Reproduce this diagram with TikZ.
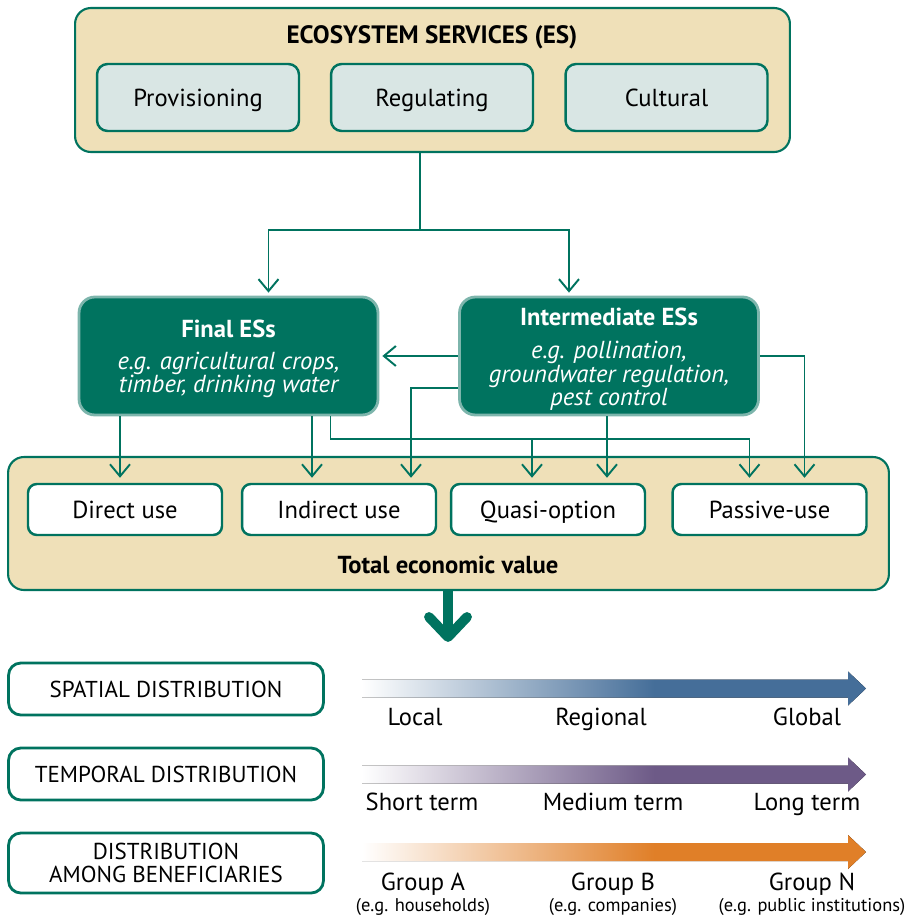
\documentclass[tikz,border=0pt]{standalone}
\usepackage{fontspec}
\setmainfont{PT Sans}
\usetikzlibrary{arrows.meta,calc}

\definecolor{esgreen}{HTML}{00735F}
\definecolor{eslight}{HTML}{7DB5AC}
\definecolor{sand}{HTML}{EFE0B8}
\definecolor{mist}{HTML}{D9E6E4}
\definecolor{spatblue}{HTML}{456E99}
\definecolor{tempurple}{HTML}{6D5A87}
\definecolor{beneorange}{HTML}{E07F28}

% fades for the distribution arrows
\pgfdeclarehorizontalshading{spatfade}{100bp}{color(0bp)=(white); color(25bp)=(white); color(54bp)=(spatblue); color(100bp)=(spatblue)}
\pgfdeclarehorizontalshading{tempfade}{100bp}{color(0bp)=(white); color(25bp)=(white); color(54bp)=(tempurple); color(100bp)=(tempurple)}
\pgfdeclarehorizontalshading{benefade}{100bp}{color(0bp)=(white); color(25bp)=(white); color(54bp)=(beneorange); color(100bp)=(beneorange)}

\newcommand{\bodyfont}{\fontsize{14}{15.5}\selectfont}

\tikzset{
  outer/.style={draw=esgreen, fill=sand, line width=1.2pt, rounded corners=9pt},
  kind/.style={draw=esgreen, fill=mist, line width=1.4pt, rounded corners=6pt, minimum width=4.04cm, minimum height=1.34cm, text height=1.02em, text depth=0pt, font=\bodyfont},
  esclass/.style={draw=eslight, fill=esgreen, line width=1.6pt, rounded corners=9pt, minimum width=5.98cm, minimum height=2.36cm},
  value/.style={draw=esgreen, fill=white, line width=1.4pt, rounded corners=5pt, minimum width=3.88cm, minimum height=1.02cm, text height=0.97em, text depth=0pt, font=\bodyfont},
  distbox/.style={draw=esgreen, fill=white, line width=1.6pt, rounded corners=7pt, minimum width=6.3cm, align=center, font=\fontsize{13.1}{12.6}\selectfont},
  flow/.style={draw=esgreen, line width=1.1pt, -{Straight Barb[length=2.4mm, width=4mm]}},
  scalelabel/.style={anchor=base, font=\bodyfont},
  examplelabel/.style={anchor=base, font=\fontsize{10.5}{12}\selectfont},
  example/.style={text=white, align=center, font=\fontsize{14}{13.4}\selectfont\itshape},
}

\begin{document}
\begin{tikzpicture}[x=0.02cm, y=-0.02cm]
\useasboundingbox (0,0) rectangle (905,917);

% Ecosystem services
\node[outer, minimum width=14.3cm, minimum height=2.88cm] (es) at (432.5,80) {};
\node[anchor=base, font=\fontsize{14.3}{16}\selectfont\bfseries] (estitle) at (432,43) {ECOSYSTEM SERVICES (ES)};
\node[kind] (prov) at (198,97.5) {Provisioning};
\node[kind] (reg) at (432,97.5) {Regulating};
\node[kind] (cult) at (666.5,97.5) {Cultural};

% Final and intermediate
\node[esclass] (fin) at (228.5,356) {};
\node[anchor=base, text=white, font=\bodyfont\bfseries] (fintitle) at (228.5,337) {Final ESs};
\node[example] (finex) at (228.5,375) {e.g. agricultural crops,\\timber, drinking water};
\node[esclass] (int) at (609,356) {};
\node[anchor=base, text=white, font=\bodyfont\bfseries] (inttitle) at (609,325) {Intermediate ESs};
\node[example] (intex) at (609,376) {e.g. pollination,\\groundwater regulation,\\pest control};

% Total economic value
\node[outer, minimum width=17.62cm, minimum height=2.66cm] (tev) at (448.5,523.5) {};
\node[value] (dir) at (125,509.5) {Direct use};
\node[value] (ind) at (339,509.5) {Indirect use};
\node[value] (quasi) at (548,509.5) {Quasi-option};
\node[value] (pas) at (769.5,509.5) {Passive-use};
\node[anchor=base, font=\bodyfont\bfseries] (tevtitle) at (448,573) {Total economic value};

% ES split
\coordinate (split) at (420,230);
\draw[draw=esgreen, line width=1.1pt] (es.south -| split) -- (split);
\draw[flow] (split) -| ($(fin.north)+(40,-3)$);
\draw[flow] (split) -| ($(int.north)+(-40,-3)$);

% intermediate links
\draw[flow] (int.west) -- ($(fin.east)+(3,0)$);
\draw[flow] (int.east) -| ($(pas.north)+(35,-5)$);
\draw[flow] ($(int.west)+(0,32)$) -| ($(ind.north)+(72,-5)$);
\coordinate (qb) at ($(quasi.north)+(59,-5)$);
\draw[flow] (int.south -| qb) -- (qb);

% final links
\coordinate (da) at ($(dir.north)+(-5,-5)$);
\coordinate (ia) at ($(ind.north)+(-27,-5)$);
\coordinate (qa) at ($(quasi.north)+(-16,-5)$);
\coordinate (pa) at ($(pas.north)+(-20,-5)$);
\coordinate (bus) at ($(pa)+(0,-39)$);
\draw[flow] (fin.south -| da) -- (da);
\draw[flow] (fin.south -| ia) -- (ia);
\draw[flow] ($(fin.south)+(102,0)$) |- (bus) -- (pa);
\draw[flow] (qa |- bus) -- (qa);

% big arrow
\coordinate (tip) at (448,637);
\draw[esgreen, line width=5.2pt] (tev.south -| tip) -- (tip);
\draw[esgreen, line width=5.6pt, line cap=round, line join=round] ($(tip)+(-19,-20)$) -- (tip) -- ($(tip)+(19,-20)$);

% Distributions
\node[distbox, minimum height=1.04cm] (spat) at (166,689) {SPATIAL DISTRIBUTION};
\node[distbox, minimum height=1.04cm] (temp) at (166,774) {TEMPORAL DISTRIBUTION};
\node[distbox, minimum height=1.2cm] (bene) at (166,863) {DISTRIBUTION\\AMONG BENEFICIARIES};

\foreach \yy/\sh in {688.5/spatfade, 774.5/tempfade, 852/benefade} {
  \fill[shading=\sh] (362,\yy-9) -- (848,\yy-9) -- (848,\yy-17) -- (866,\yy) -- (848,\yy+17) -- (848,\yy+9) -- (362,\yy+9) -- cycle;
}

\node[scalelabel] (local) at (415,725) {Local};
\node[scalelabel] (regional) at (601,725) {Regional};
\node[scalelabel] (global) at (807,725) {Global};
\node[scalelabel] (short) at (422,810) {Short term};
\node[scalelabel] (medium) at (613,810) {Medium term};
\node[scalelabel] (long) at (807,810) {Long term};
\node[scalelabel] (groupa) at (423,890) {Group A};
\node[scalelabel] (groupb) at (613,890) {Group B};
\node[scalelabel] (groupn) at (812,890) {Group N};
\node[examplelabel] (exa) at (423,911) {(e.g. households)};
\node[examplelabel] (exb) at (613,911) {(e.g. companies)};
\node[examplelabel] (exn) at (812,911) {(e.g. public institutions)};

\end{tikzpicture}
\end{document}
